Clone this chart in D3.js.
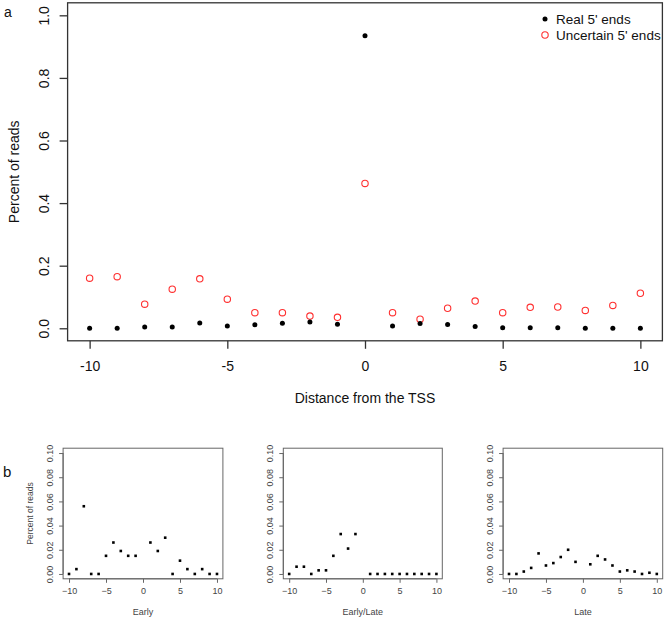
<!DOCTYPE html>
<html><head><meta charset="utf-8">
<script src="https://cdn.jsdelivr.net/npm/d3@7"></script>
<style>body{margin:0;background:#fff}svg{display:block}text{font-family:"Liberation Sans",Arial,sans-serif}</style>
</head><body>
<svg id="c" width="666" height="620"></svg>
<script>
const positions = [-10,-9,-8,-7,-6,-5,-4,-3,-2,-1,0,1,2,3,4,5,6,7,8,9,10];
const realEnds = [0.000,0.000,0.004,0.004,0.017,0.007,0.011,0.016,0.020,0.013,0.935,0.007,0.015,0.012,0.006,0.002,0.002,0.002,0.000,0.000,0.000];
const uncertainEnds = [0.160,0.165,0.077,0.125,0.158,0.093,0.050,0.050,0.039,0.035,0.463,0.050,0.029,0.064,0.087,0.050,0.067,0.068,0.057,0.073,0.112];
const mainXTicks = [-10,-5,0,5,10];
const mainYTicks = [0,0.2,0.4,0.6,0.8,1.0];
const smallPositions = [-10,-9,-8,-7,-6,-5,-4,-3,-2,-1,1,2,3,4,5,6,7,8,9,10];
const earlyVals = [0.000,0.004,0.056,0.000,0.000,0.015,0.026,0.019,0.015,0.015,0.026,0.019,0.030,0.000,0.011,0.004,0.000,0.004,0.000,0.000];
const earlyLateVals = [0.000,0.006,0.006,0.000,0.003,0.003,0.015,0.033,0.021,0.033,0.000,0.000,0.000,0.000,0.000,0.000,0.000,0.000,0.000,0.000];
const lateVals = [0.000,0.000,0.002,0.005,0.017,0.007,0.009,0.014,0.020,0.010,0.008,0.015,0.012,0.007,0.002,0.003,0.002,0.000,0.001,0.000];
const smallTitles = ["Early","Early/Late","Late"];
const smallYTicks = [0,0.02,0.04,0.06,0.08,0.10];
const legendLabels = ["Real 5' ends","Uncertain 5' ends"];

const svg = d3.select("#c");

// ---------- Panel a ----------
const x = d3.scaleLinear().domain([-10.8,10.8]).range([67.6,662.4]);
const y = d3.scaleLinear().domain([-0.04,1.04]).range([340.8,2.8]);
const ga = svg.append("g");
ga.append("rect").attr("x",x(-10.8)).attr("y",y(1.04)).attr("width",x(10.8)-x(-10.8)).attr("height",y(-0.04)-y(1.04))
  .attr("fill","none").attr("stroke","#333").attr("stroke-width",1.3);
const xAx = ga.append("g").attr("transform",`translate(0,${y(-0.04)})`)
  .call(d3.axisBottom(x).tickValues(mainXTicks).tickSize(8).tickPadding(12).tickFormat(d=>d<0?"-"+Math.abs(d):d));
xAx.select(".domain").remove();
xAx.selectAll("line").attr("stroke","#333").attr("stroke-width",1.3);
xAx.selectAll("text").attr("font-size",14).attr("fill","#111").attr("font-family","Liberation Sans, Arial, sans-serif");
const yAx = ga.append("g").attr("transform",`translate(${x(-10.8)},0)`)
  .call(d3.axisLeft(y).tickValues(mainYTicks).tickSize(8).tickFormat(d3.format(".1f")));
yAx.select(".domain").remove();
yAx.selectAll("line").attr("stroke","#333").attr("stroke-width",1.3);
yAx.selectAll("text").attr("font-size",14).attr("fill","#111").attr("font-family","Liberation Sans, Arial, sans-serif")
  .attr("x",null).attr("text-anchor","middle")
  .attr("transform","translate(-24,0) rotate(-90)").attr("dy","0.35em");
ga.append("text").attr("x",x(0)).attr("y",403).attr("text-anchor","middle").attr("font-size",14).attr("fill","#111").text("Distance from the TSS");
ga.append("text").attr("transform",`translate(19,${(y(-0.04)+y(1.04))/2}) rotate(-90)`).attr("text-anchor","middle").attr("font-size",14).attr("fill","#111").text("Percent of reads");
ga.append("text").attr("x",4).attr("y",17).attr("font-size",14).attr("fill","#111").text("a");

ga.selectAll(".unc").data(positions).join("circle").attr("class","unc")
  .attr("cx",d=>x(d)).attr("cy",(d,i)=>y(uncertainEnds[i])).attr("r",3.2)
  .attr("fill","none").attr("stroke","#ff3030").attr("stroke-width",1.1);
ga.selectAll(".real").data(positions).join("circle").attr("class","real")
  .attr("cx",d=>x(d)).attr("cy",(d,i)=>y(realEnds[i])).attr("r",2.5).attr("fill","#000");

// legend
const lg = ga.append("g");
lg.append("circle").attr("cx",545).attr("cy",19).attr("r",2.5).attr("fill","#000");
lg.append("circle").attr("cx",545).attr("cy",35).attr("r",3.2).attr("fill","none").attr("stroke","#ff3030").attr("stroke-width",1.1);
lg.selectAll("text").data(legendLabels).join("text").attr("x",556).attr("y",(d,i)=>19+i*16).attr("dy","0.35em")
  .attr("font-size",13.5).attr("fill","#111").text(d=>d);

// ---------- Panel b ----------
svg.append("text").attr("x",3).attr("y",477).attr("font-size",15).attr("fill","#111").text("b");
const panels = [
  {vals:earlyVals, left:63.1, right:222.9, showY:true},
  {vals:earlyLateVals, left:283.3, right:442.3, showY:false},
  {vals:lateVals, left:503.1, right:662.7, showY:false}
];
panels.forEach((p,k)=>{
  const sx = d3.scaleLinear().domain([-10.8,10.8]).range([p.left,p.right]);
  const sy = d3.scaleLinear().domain([-0.004,0.104]).range([578.8,448.2]);
  const g = svg.append("g");
  g.append("rect").attr("x",p.left).attr("y",sy(0.104)).attr("width",p.right-p.left).attr("height",sy(-0.004)-sy(0.104))
    .attr("fill","none").attr("stroke","#666").attr("stroke-width",1);
  const xa = g.append("g").attr("transform",`translate(0,${sy(-0.004)})`)
    .call(d3.axisBottom(sx).tickValues(mainXTicks).tickSize(4).tickPadding(5).tickFormat(d=>d<0?"\u2212"+Math.abs(d):d));
  xa.select(".domain").attr("d",`M${sx(-10)},0H${sx(10)}`).attr("stroke","#666");
  xa.selectAll("line").attr("stroke","#666");
  xa.selectAll("text").attr("font-size",9).attr("fill","#444").attr("font-family","Liberation Sans, Arial, sans-serif");
  const ya = g.append("g").attr("transform",`translate(${p.left},0)`)
    .call(d3.axisLeft(sy).tickValues(smallYTicks).tickSize(4).tickFormat(d3.format(".2f")));
  ya.select(".domain").attr("d",`M0,${sy(0)}V${sy(0.1)}`).attr("stroke","#666");
  ya.selectAll("line").attr("stroke","#666");
  ya.selectAll("text").attr("font-size",9).attr("fill","#444").attr("font-family","Liberation Sans, Arial, sans-serif")
    .attr("x",null).attr("text-anchor","middle").attr("transform","translate(-13,0) rotate(-90)").attr("dy","0.35em");
  g.append("text").attr("x",sx(0)).attr("y",615).attr("text-anchor","middle").attr("font-size",9).attr("fill","#444").text(smallTitles[k]);
  if(p.showY){
    g.append("text").attr("transform",`translate(33,${(sy(-0.004)+sy(0.104))/2}) rotate(-90)`).attr("text-anchor","middle")
      .attr("font-size",8.5).attr("fill","#444").text("Percent of reads");
  }
  g.selectAll(".pt").data(smallPositions).join("rect").attr("class","pt")
    .attr("x",d=>sx(d)-1.3).attr("y",(d,i)=>sy(p.vals[i])-1.3).attr("width",2.6).attr("height",2.6).attr("fill","#000");
});
</script>
</body></html>
